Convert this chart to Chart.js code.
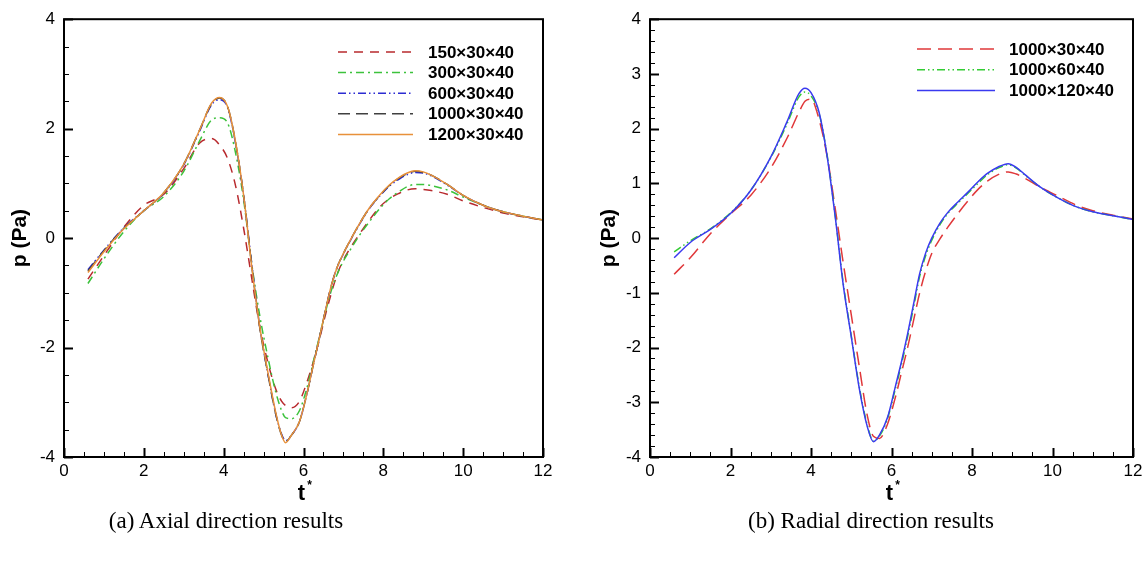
<!DOCTYPE html>
<html lang="en">
  <head>
    <meta charset="UTF-8" />
    <title>Pressure history - grid study</title>
    <script src="https://cdn.jsdelivr.net/npm/chart.js"></script>
    <style>
      body { margin: 0; background: #fff; width: 1148px; height: 561px; overflow: hidden; position: relative; }
      .panel { position: absolute; top: 0; width: 574px; height: 510px; }
      #axialBox { left: 0; }
      #radialBox { left: 574px; }
      .caption {
        position: absolute; top: 509px; width: 500px; text-align: center;
        font-family: "Liberation Serif", "Times New Roman", serif; font-size: 23px; line-height: 23px; color: #000;
      }
    </style>
  </head>
  <body>
    <div class="panel" id="axialBox"><canvas id="axialChart"></canvas></div>
    <div class="panel" id="radialBox"><canvas id="radialChart"></canvas></div>
    <div class="caption" style="left: -24px">(a) Axial direction results</div>
    <div class="caption" style="left: 621px">(b) Radial direction results</div>

    <script>
      // ---- (a) axial direction: sample times and pressure (Pa) per grid ----
      const tAxial = [0.6, 1.0, 1.5, 2.0, 2.5, 3.0, 3.4, 3.7, 3.9, 4.1, 4.3, 4.5, 4.7, 4.9, 5.1, 5.3, 5.45, 5.55,
        5.7, 5.9, 6.1, 6.25, 6.4, 6.55, 6.7, 6.85, 7.0, 7.2, 7.4, 7.65, 7.9, 8.15, 8.4, 8.6, 8.8, 9.0, 9.2,
        9.6, 10.0, 10.5, 11.0, 11.5, 12.0];
      const p150 = [-0.75, -0.32, 0.2, 0.6, 0.8, 1.27, 1.74, 1.82, 1.7, 1.45, 0.95, 0.18, -0.72, -1.6, -2.25, -2.75, -2.98, -3.06,
        -3.1, -2.98, -2.6, -2.25, -1.85, -1.4, -1.0, -0.65, -0.4, -0.15, 0.07, 0.33, 0.56, 0.72, 0.82, 0.88, 0.9, 0.89, 0.87,
        0.8, 0.68, 0.56, 0.46, 0.39, 0.33];
      const p300 = [-0.83, -0.38, 0.12, 0.5, 0.76, 1.22, 1.78, 2.16, 2.2, 2.1, 1.55, 0.7, -0.45, -1.4, -2.15, -2.8, -3.15, -3.28,
        -3.3, -3.15, -2.7, -2.25, -1.8, -1.35, -0.95, -0.65, -0.42, -0.18, 0.05, 0.3, 0.53, 0.72, 0.85, 0.94, 0.98, 0.98, 0.96,
        0.88, 0.75, 0.6, 0.48, 0.4, 0.33];
      const p600 = [-0.58, -0.22, 0.19, 0.5, 0.82, 1.34, 1.96, 2.44, 2.53, 2.38, 1.72, 0.78, -0.45, -1.6, -2.45, -3.2, -3.58, -3.7,
        -3.6, -3.35, -2.8, -2.3, -1.82, -1.32, -0.86, -0.52, -0.29, -0.01, 0.25, 0.54, 0.76, 0.95, 1.08, 1.16, 1.2, 1.19, 1.14,
        0.97, 0.78, 0.6, 0.48, 0.4, 0.33];
      const p1000 = [-0.6, -0.23, 0.18, 0.5, 0.83, 1.35, 1.98, 2.46, 2.56, 2.4, 1.74, 0.78, -0.48, -1.62, -2.45, -3.2, -3.6, -3.72,
        -3.6, -3.35, -2.8, -2.3, -1.82, -1.32, -0.86, -0.52, -0.28, 0.0, 0.26, 0.55, 0.77, 0.96, 1.1, 1.18, 1.22, 1.2, 1.15,
        0.98, 0.78, 0.6, 0.48, 0.4, 0.33];
      const p1200 = [-0.63, -0.25, 0.17, 0.5, 0.83, 1.35, 1.98, 2.47, 2.57, 2.4, 1.75, 0.78, -0.5, -1.6, -2.42, -3.17, -3.6, -3.74,
        -3.6, -3.35, -2.8, -2.3, -1.82, -1.32, -0.86, -0.52, -0.28, 0.0, 0.26, 0.55, 0.78, 0.97, 1.11, 1.19, 1.23, 1.21, 1.15,
        0.98, 0.78, 0.6, 0.48, 0.4, 0.33];

      // ---- (b) radial direction ----
      const tRadial = [0.6, 1.0, 1.5, 2.0, 2.5, 3.0, 3.4, 3.7, 3.85, 4.0, 4.2, 4.4, 4.6, 4.8, 5.0, 5.2, 5.4, 5.55,
        5.7, 5.9, 6.1, 6.25, 6.4, 6.55, 6.7, 6.85, 7.0, 7.2, 7.4, 7.65, 7.9, 8.15, 8.4, 8.65, 8.9, 9.1, 9.3,
        9.7, 10.1, 10.6, 11.0, 11.5, 12.0];
      const pR30 = [-0.66, -0.36, 0.08, 0.44, 0.78, 1.28, 1.82, 2.3, 2.5, 2.54, 2.17, 1.5, 0.55, -0.45, -1.4, -2.35, -3.25, -3.62,
        -3.66, -3.4, -2.9, -2.45, -2.0, -1.5, -1.0, -0.6, -0.28, -0.02, 0.2, 0.45, 0.68, 0.89, 1.05, 1.16, 1.21, 1.17, 1.1,
        0.93, 0.78, 0.6, 0.5, 0.42, 0.35];
      const pR60 = [-0.25, -0.05, 0.17, 0.46, 0.87, 1.47, 2.08, 2.58, 2.67, 2.6, 2.28, 1.52, 0.42, -0.82, -1.78, -2.72, -3.42, -3.71,
        -3.62, -3.3, -2.74, -2.3, -1.8, -1.26, -0.7, -0.32, -0.04, 0.24, 0.45, 0.64, 0.82, 1.0, 1.17, 1.28, 1.34, 1.28, 1.16,
        0.93, 0.75, 0.57, 0.48, 0.41, 0.34];
      const pR120 = [-0.36, -0.08, 0.16, 0.45, 0.87, 1.48, 2.12, 2.64, 2.74, 2.66, 2.3, 1.5, 0.4, -0.85, -1.8, -2.75, -3.45, -3.72,
        -3.6, -3.28, -2.7, -2.25, -1.75, -1.2, -0.65, -0.27, 0.0, 0.27, 0.47, 0.66, 0.84, 1.03, 1.19, 1.3, 1.36, 1.29, 1.17,
        0.93, 0.75, 0.57, 0.48, 0.41, 0.34];

      const toPoints = (ts, ps) => ts.map((t, i) => ({ x: t, y: ps[i] }));

      function series(label, ts, ps, color, dash, order) {
        return {
          label: label,
          data: toPoints(ts, ps),
          borderColor: color,
          borderWidth: 1.5,
          borderDash: dash,
          pointRadius: 0,
          fill: false,
          cubicInterpolationMode: "monotone",
          order: order,
        };
      }

      // frame, inward ticks, axis titles and in-plot legend, drawn like the journal figure
      const paperFrame = {
        id: "paperFrame",
        afterDatasetsDraw(chart, args, opts) {
          const ctx = chart.ctx;
          const a = chart.chartArea;
          const x = chart.scales.x;
          const y = chart.scales.y;
          ctx.save();
          ctx.strokeStyle = "#000";

          const nx = Math.round((x.max - x.min) / opts.xMinor);
          for (let i = 0; i <= nx; i++) {
            const v = x.min + i * opts.xMinor;
            const major = Math.abs(v / opts.xMajor - Math.round(v / opts.xMajor)) < 1e-6;
            const px = Math.round(x.getPixelForValue(v)) + 0.5;
            ctx.lineWidth = major ? 2 : 1;
            ctx.beginPath();
            ctx.moveTo(px, a.bottom);
            ctx.lineTo(px, a.bottom - (major ? 9 : 5));
            ctx.stroke();
          }
          const ny = Math.round((y.max - y.min) / opts.yMinor);
          for (let i = 0; i <= ny; i++) {
            const v = y.min + i * opts.yMinor;
            const major = Math.abs(v / opts.yMajor - Math.round(v / opts.yMajor)) < 1e-6;
            const py = Math.round(y.getPixelForValue(v)) + 0.5;
            ctx.lineWidth = major ? 2 : 1;
            ctx.beginPath();
            ctx.moveTo(a.left, py);
            ctx.lineTo(a.left + (major ? 9 : 5), py);
            ctx.stroke();
          }
          ctx.lineWidth = 2;
          ctx.strokeRect(a.left, a.top, a.right - a.left, a.bottom - a.top);

          // axis titles
          ctx.fillStyle = "#000";
          ctx.textAlign = "center";
          ctx.textBaseline = "middle";
          ctx.font = "bold 21px 'Liberation Sans', Arial, sans-serif";
          ctx.save();
          ctx.translate(opts.yTitleX, (a.top + a.bottom) / 2);
          ctx.rotate(-Math.PI / 2);
          ctx.fillText("p (Pa)", 0, 0);
          ctx.restore();
          const cx = (a.left + a.right) / 2;
          ctx.font = "bold 22px 'Liberation Sans', Arial, sans-serif";
          ctx.fillText("t", cx - 2, 494);
          ctx.font = "bold 12px 'Liberation Sans', Arial, sans-serif";
          ctx.fillText("*", cx + 6, 486);

          // legend
          const lg = opts.legend;
          ctx.font = "bold 17px 'Liberation Sans', Arial, sans-serif";
          ctx.textAlign = "left";
          chart.data.datasets.forEach((ds, i) => {
            const ly = lg.y + i * lg.row;
            ctx.strokeStyle = ds.borderColor;
            ctx.lineWidth = ds.borderWidth;
            ctx.setLineDash(ds.borderDash || []);
            ctx.beginPath();
            ctx.moveTo(lg.x, ly);
            ctx.lineTo(lg.x + lg.len, ly);
            ctx.stroke();
            ctx.setLineDash([]);
            ctx.fillText(ds.label, lg.textX, ly + 1);
          });
          ctx.restore();
        },
      };

      function makeChart(id, datasets, yStep, pad, axisWidth, frameOpts) {
        return new Chart(document.getElementById(id), {
          type: "line",
          data: { datasets: datasets },
          options: {
            responsive: true,
            maintainAspectRatio: false,
            animation: false,
            layout: { padding: pad },
            plugins: {
              legend: { display: false },
              tooltip: { enabled: false },
              paperFrame: frameOpts,
            },
            scales: {
              x: {
                type: "linear",
                min: 0,
                max: 12,
                afterFit: (s) => { s.height = 53; },
                grid: { display: false, drawTicks: false },
                border: { display: false },
                ticks: {
                  stepSize: 2,
                  padding: 4,
                  color: "#000",
                  font: { family: "'Liberation Sans', Arial, sans-serif", size: 17 },
                },
              },
              y: {
                min: -4,
                max: 4,
                afterFit: (s) => { s.width = axisWidth; },
                grid: { display: false, drawTicks: false },
                border: { display: false },
                ticks: {
                  stepSize: yStep,
                  padding: 9,
                  color: "#000",
                  font: { family: "'Liberation Sans', Arial, sans-serif", size: 17 },
                },
              },
            },
          },
          plugins: [paperFrame],
        });
      }

      makeChart(
        "axialChart",
        [
          series("150\u00d730\u00d740", tAxial, p150, "#b82a2e", [9, 7], 4),
          series("300\u00d730\u00d740", tAxial, p300, "#3cc23c", [8, 4, 2, 4], 3),
          series("600\u00d730\u00d740", tAxial, p600, "#2c2cd2", [8, 3, 1.5, 3, 1.5, 3], 2),
          series("1000\u00d730\u00d740", tAxial, p1000, "#404040", [12, 6], 1),
          series("1200\u00d730\u00d740", tAxial, p1200, "#e8913a", [], 0),
        ],
        2,
        { top: 16, right: 31, bottom: 0, left: 0 },
        64,
        { xMinor: 0.5, xMajor: 2, yMinor: 0.5, yMajor: 2, yTitleX: 20,
          legend: { x: 338, len: 75, textX: 428, y: 52, row: 20.6 } }
      );

      makeChart(
        "radialChart",
        [
          series("1000\u00d730\u00d740", tRadial, pR30, "#e0383a", [14, 7], 2),
          series("1000\u00d760\u00d740", tRadial, pR60, "#33cc33", [8, 3, 1.5, 3, 1.5, 3], 1),
          series("1000\u00d7120\u00d740", tRadial, pR120, "#3a3af0", [], 0),
        ],
        1,
        { top: 14, right: 15, bottom: 0, left: 0 },
        76,
        { xMinor: 0.5, xMajor: 2, yMinor: 0.2, yMajor: 1, yTitleX: 35,
          legend: { x: 343, len: 78, textX: 435, y: 49, row: 20.8 } }
      );
    </script>
  </body>
</html>
